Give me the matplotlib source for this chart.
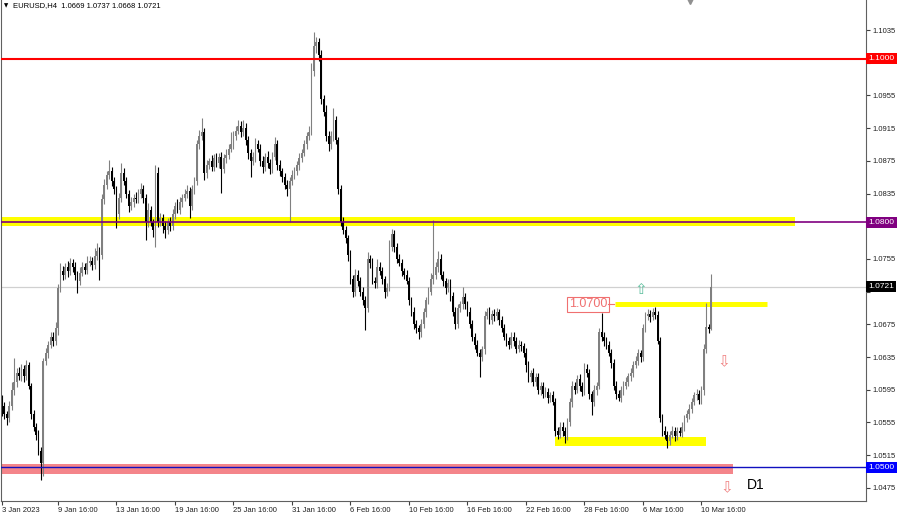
import numpy as np
import matplotlib
matplotlib.use('Agg')
import matplotlib.pyplot as plt
import matplotlib.transforms as mtransforms

plt.rcParams['font.family'] = ['Liberation Sans', 'DejaVu Sans']

# EURUSD H4 candles, prices in pips above 1.0000
first_open = 580
closes = [
    575, 565, 560, 575, 595, 605, 615, 612, 620, 612,
    625, 600, 565, 550, 540, 520, 505, 630, 640, 650,
    660, 655, 670, 720, 740, 735, 745, 740, 750, 745,
    735, 728, 738, 745, 742, 750, 752, 748, 758, 765,
    760, 828, 845, 858, 862, 850, 840, 810, 830, 860,
    850, 835, 820, 825, 830, 828, 835, 840, 830, 800,
    815, 800, 790, 860, 800, 805, 795, 790, 800, 795,
    810, 820, 815, 825, 830, 835, 838, 820, 840, 850,
    895, 905, 910, 860, 870, 875, 868, 878, 872, 880,
    865, 878, 882, 890, 895, 905, 912, 918, 910, 915,
    900, 885, 875, 880, 895, 890, 875, 868, 880, 872,
    865, 880, 895, 870, 862, 855, 845, 840, 850, 858,
    862, 870, 878, 885, 895, 905, 910, 985, 1015, 1020,
    1005, 950, 935, 905, 895, 905, 925, 900, 840, 800,
    790, 780, 760, 730, 715, 735, 728, 715, 705, 695,
    755, 750, 728, 725, 745, 740, 730, 715, 720, 770,
    785, 770, 755, 750, 740, 735, 728, 705, 690, 675,
    670, 665, 675, 690, 705, 715, 730, 735, 745, 755,
    735, 728, 720, 725, 710, 690, 675, 695, 700, 708,
    700, 690, 675, 660, 650, 640, 635, 645, 685, 690,
    680, 688, 685, 690, 680, 670, 660, 655, 650, 660,
    655, 645, 650, 648, 640, 625, 610, 615, 605, 610,
    595, 600, 590, 592, 585, 588, 580, 545, 540, 550,
    545, 538, 555, 580, 600, 595, 608, 600, 592, 620,
    615, 590, 580, 595, 600, 665, 660, 655, 650, 640,
    628, 600, 590, 585, 595, 600, 605, 612, 615, 625,
    630, 640, 635, 670, 685, 688, 684, 690, 686, 655,
    560, 545, 540, 532, 540, 545, 538, 545, 542, 550,
    560, 565, 572, 580, 588, 590, 582, 595, 645, 672,
    669, 721,
]
wick_up = [
    8, 5, 4, 6, 10, 29, 6, 8, 7, 5,
    6, 4, 3, 5, 4, 6, 5, 4, 6, 5,
    5, 6, 8, 4, 10, 6, 5, 7, 6, 5,
    6, 5, 7, 6, 5, 8, 6, 5, 10, 9,
    5, 6, 8, 5, 14, 6, 5, 4, 6, 12,
    6, 5, 4, 6, 5, 7, 6, 8, 5, 4,
    8, 5, 4, 10, 7, 6, 5, 6, 5, 6,
    6, 5, 8, 6, 5, 6, 7, 5, 6, 5,
    6, 8, 17, 5, 6, 4, 7, 5, 6, 5,
    6, 5, 7, 6, 15, 6, 5, 7, 6, 10,
    6, 5, 4, 6, 8, 6, 5, 6, 5, 7,
    5, 6, 9, 5, 6, 4, 5, 6, 5, 6,
    6, 5, 6, 5, 6, 5, 8, 10, 18, 6,
    5, 6, 5, 8, 6, 6, 15, 5, 4, 6,
    6, 5, 4, 6, 5, 8, 6, 5, 6, 5,
    8, 5, 6, 5, 10, 6, 5, 4, 6, 8,
    6, 5, 4, 6, 5, 4, 6, 5, 4, 6,
    5, 4, 6, 5, 4, 6, 8, 68, 6, 10,
    6, 5, 4, 6, 5, 4, 6, 5, 4, 13,
    5, 4, 6, 5, 4, 6, 5, 4, 6, 5,
    6, 5, 6, 5, 4, 5, 6, 4, 5, 6,
    5, 4, 6, 5, 4, 6, 5, 4, 6, 5,
    6, 5, 4, 6, 5, 4, 6, 5, 4, 6,
    5, 4, 6, 5, 6, 4, 5, 6, 4, 8,
    6, 5, 4, 6, 5, 5, 24, 6, 5, 4,
    5, 4, 6, 5, 4, 6, 5, 4, 6, 5,
    6, 5, 4, 6, 5, 6, 4, 5, 6, 5,
    4, 5, 6, 5, 4, 6, 5, 4, 5, 6,
    4, 5, 6, 5, 4, 6, 5, 4, 6, 29,
    4, 16,
]
wick_dn = [
    12, 6, 8, 4, 5, 6, 7, 5, 6, 8,
    5, 4, 6, 5, 6, 5, 20, 15, 5, 6,
    4, 6, 5, 8, 5, 6, 4, 7, 5, 6,
    6, 15, 5, 4, 6, 5, 4, 6, 5, 4,
    31, 5, 6, 4, 5, 6, 5, 17, 6, 5,
    5, 6, 8, 5, 6, 5, 4, 5, 6, 22,
    6, 5, 8, 20, 6, 5, 8, 9, 5, 6,
    5, 6, 4, 5, 6, 4, 5, 15, 5, 6,
    5, 6, 4, 8, 6, 5, 6, 5, 4, 6,
    29, 5, 6, 5, 4, 6, 5, 4, 6, 5,
    6, 8, 20, 5, 6, 4, 6, 8, 5, 6,
    6, 5, 4, 6, 5, 6, 5, 8, 40, 5,
    5, 4, 6, 5, 4, 6, 5, 4, 6, 8,
    8, 6, 5, 6, 8, 5, 6, 5, 6, 5,
    5, 6, 8, 6, 7, 5, 6, 5, 6, 27,
    5, 6, 4, 5, 6, 5, 6, 8, 5, 4,
    5, 6, 5, 4, 6, 5, 4, 6, 5, 6,
    6, 8, 5, 4, 6, 5, 4, 6, 5, 6,
    5, 6, 8, 5, 6, 5, 6, 4, 5, 6,
    6, 5, 4, 6, 5, 4, 24, 5, 6, 4,
    5, 4, 6, 5, 6, 5, 4, 6, 5, 4,
    6, 5, 4, 6, 5, 8, 6, 5, 6, 5,
    5, 6, 5, 4, 6, 5, 4, 6, 5, 4,
    6, 8, 5, 4, 6, 5, 4, 6, 5, 4,
    5, 6, 16, 5, 6, 4, 5, 6, 5, 4,
    6, 5, 6, 4, 5, 6, 4, 5, 6, 4,
    4, 5, 6, 5, 4, 5, 6, 4, 5, 4,
    5, 6, 5, 8, 5, 4, 6, 5, 4, 5,
    5, 4, 6, 5, 4, 6, 5, 4, 6, 5,
    5, 1,
]

symbol = 'EURUSD,H4'
tick_idx = [0, 23, 47, 71, 95, 119, 143, 167, 191, 215, 239, 263, 287]
tick_labels = ['3 Jan 2023', '9 Jan 16:00', '13 Jan 16:00', '19 Jan 16:00',
               '25 Jan 16:00', '31 Jan 16:00', '6 Feb 16:00', '10 Feb 16:00',
               '16 Feb 16:00', '22 Feb 16:00', '28 Feb 16:00', '6 Mar 16:00',
               '10 Mar 16:00']
price_ticks = [1.0475, 1.0515, 1.0555, 1.0595, 1.0635, 1.0675, 1.0715, 1.0755,
               1.0795, 1.0835, 1.0875, 1.0915, 1.0955, 1.0995, 1.1035]

# levels drawn by the analyst
level_red = 1.1000
level_purple = 1.0800
level_blue = 1.0500
zone_1080 = (1.0795, 1.0806)
zone_1050 = (1.0492, 1.0504)
zone_support = (1.0526, 1.0537)
level_1070 = 1.0700

# ---- build OHLC
c = 1 + np.array(closes) / 10000
o = np.concatenate([[1 + first_open / 10000], c[:-1]])
h = np.maximum(o, c) + np.array(wick_up) / 10000
l = np.minimum(o, c) - np.array(wick_dn) / 10000
idx = np.arange(len(c))
last_price = c[-1]

fig = plt.figure(figsize=(9, 5.15), dpi=100)
ax = fig.add_axes([0.001, 0.0272, 0.9611, 0.9728])
ax.set_xlim(-0.41, 354.46)
ax.set_ylim(1.04589, 1.10717)

# zones / bands (behind candles)
ax.fill_between([-1, 325.3], zone_1080[0], zone_1080[1], color='#ffff00', lw=0, zorder=1)
ax.fill_between([-1, 299.9], zone_1050[0], zone_1050[1], color='#f4858a', lw=0, zorder=1)
ax.fill_between([226.9, 288.8], zone_support[0], zone_support[1], color='#ffff00', lw=0, zorder=1)
ax.plot([251.5, 313.8], [level_1070, level_1070], color='#ffff00', lw=3.6,
        solid_capstyle='butt', zorder=1)
ax.axhline(last_price, color='#d0d0d0', lw=0.9, zorder=0.5)

# candles
bull = c >= o
col = np.where(bull, '#808080', '#000000')
ax.vlines(idx, l, h, colors=col, lw=0.8, zorder=2)
body_lo = np.minimum(o, c)
body_h = np.maximum(np.abs(c - o), 0.00005)
ax.bar(idx, body_h, bottom=body_lo, width=0.72, color=col, lw=0, zorder=2)

# horizontal levels
ax.axhline(level_red, color='#ff0000', lw=1.5, zorder=3)
ax.axhline(level_purple, color='#800080', lw=1.2, zorder=3)
ax.axhline(level_blue, color='#1010c0', lw=1.0, zorder=3)

# 1.0700 label
ax.text(240.4, level_1070 - 0.00005, '1.0700', fontsize=9, color='#f07070',
        ha='center', va='center', zorder=4,
        bbox=dict(boxstyle='square,pad=0.12', fc='white', ec='#f07070', lw=0.8))
ax.plot([248.6, 251.3], [level_1070, level_1070], color='#f07070', lw=0.8, zorder=4)

# arrows and D1 mark
ax.text(262.2, 1.0717, '\u21e7', fontsize=11, color='#5fbf9f', ha='center',
        va='center', family='DejaVu Sans', zorder=4)
ax.text(296.2, 1.0629, '\u21e9', fontsize=11, color='#f08080', ha='center',
        va='center', family='DejaVu Sans', zorder=4)
ax.text(297.4, 1.0475, '\u21e9', fontsize=11, color='#f08080', ha='center',
        va='center', family='DejaVu Sans', zorder=4)
ax.text(309.3, 1.0479, 'D1', fontsize=10, color='#000000', ha='center', va='center', zorder=4)

# header
ax.text(0.004, 0.988, '\u25bc', transform=ax.transAxes, fontsize=4, va='center',
        ha='left', family='DejaVu Sans')
ax.text(0.014, 0.988, f'{symbol}  {o[-1]:.4f} {h[-1]:.4f} {l[-1]:.4f} {c[-1]:.4f}',
        transform=ax.transAxes, fontsize=5.5, va='center', ha='left')
ax.plot([(690 - 1) / 865], [0.998], marker='v', ms=4, color='#909090',
        transform=ax.transAxes, clip_on=True, zorder=5)

# axes: labels hidden behind the price boxes are left out
covered = {1.0995, 1.0795, 1.0715}
ax.yaxis.tick_right()
ax.set_yticks(price_ticks)
ax.set_yticklabels(['' if p in covered else f'{p:.4f}' for p in price_ticks])
ax.tick_params(axis='y', direction='out', length=3, pad=1.5, labelsize=5.5,
               color='#404040', labelcolor='#202020')
ax.set_xticks(tick_idx)
ax.set_xticklabels(tick_labels, ha='left')
ax.tick_params(axis='x', direction='out', length=3, pad=1.5, labelsize=5.5,
               color='#404040', labelcolor='#202020')
for s in ['left', 'right', 'bottom']:
    ax.spines[s].set_color('#606060')
    ax.spines[s].set_linewidth(0.8)
ax.spines['top'].set_visible(False)

# price boxes on the right scale
trans = mtransforms.blended_transform_factory(ax.transAxes, ax.transData)
for price, bg in [(level_red, '#ff0000'), (level_purple, '#800080'),
                  (last_price, '#000000'), (level_blue, '#0000ff')]:
    ax.text(1.003, price, f'{price:.4f}', transform=trans, fontsize=6, color='white',
            ha='left', va='center', clip_on=False, zorder=6,
            bbox=dict(boxstyle='square,pad=0.25', fc=bg, ec=bg, lw=0))

fig.savefig('out.png', dpi=100, facecolor='white')
